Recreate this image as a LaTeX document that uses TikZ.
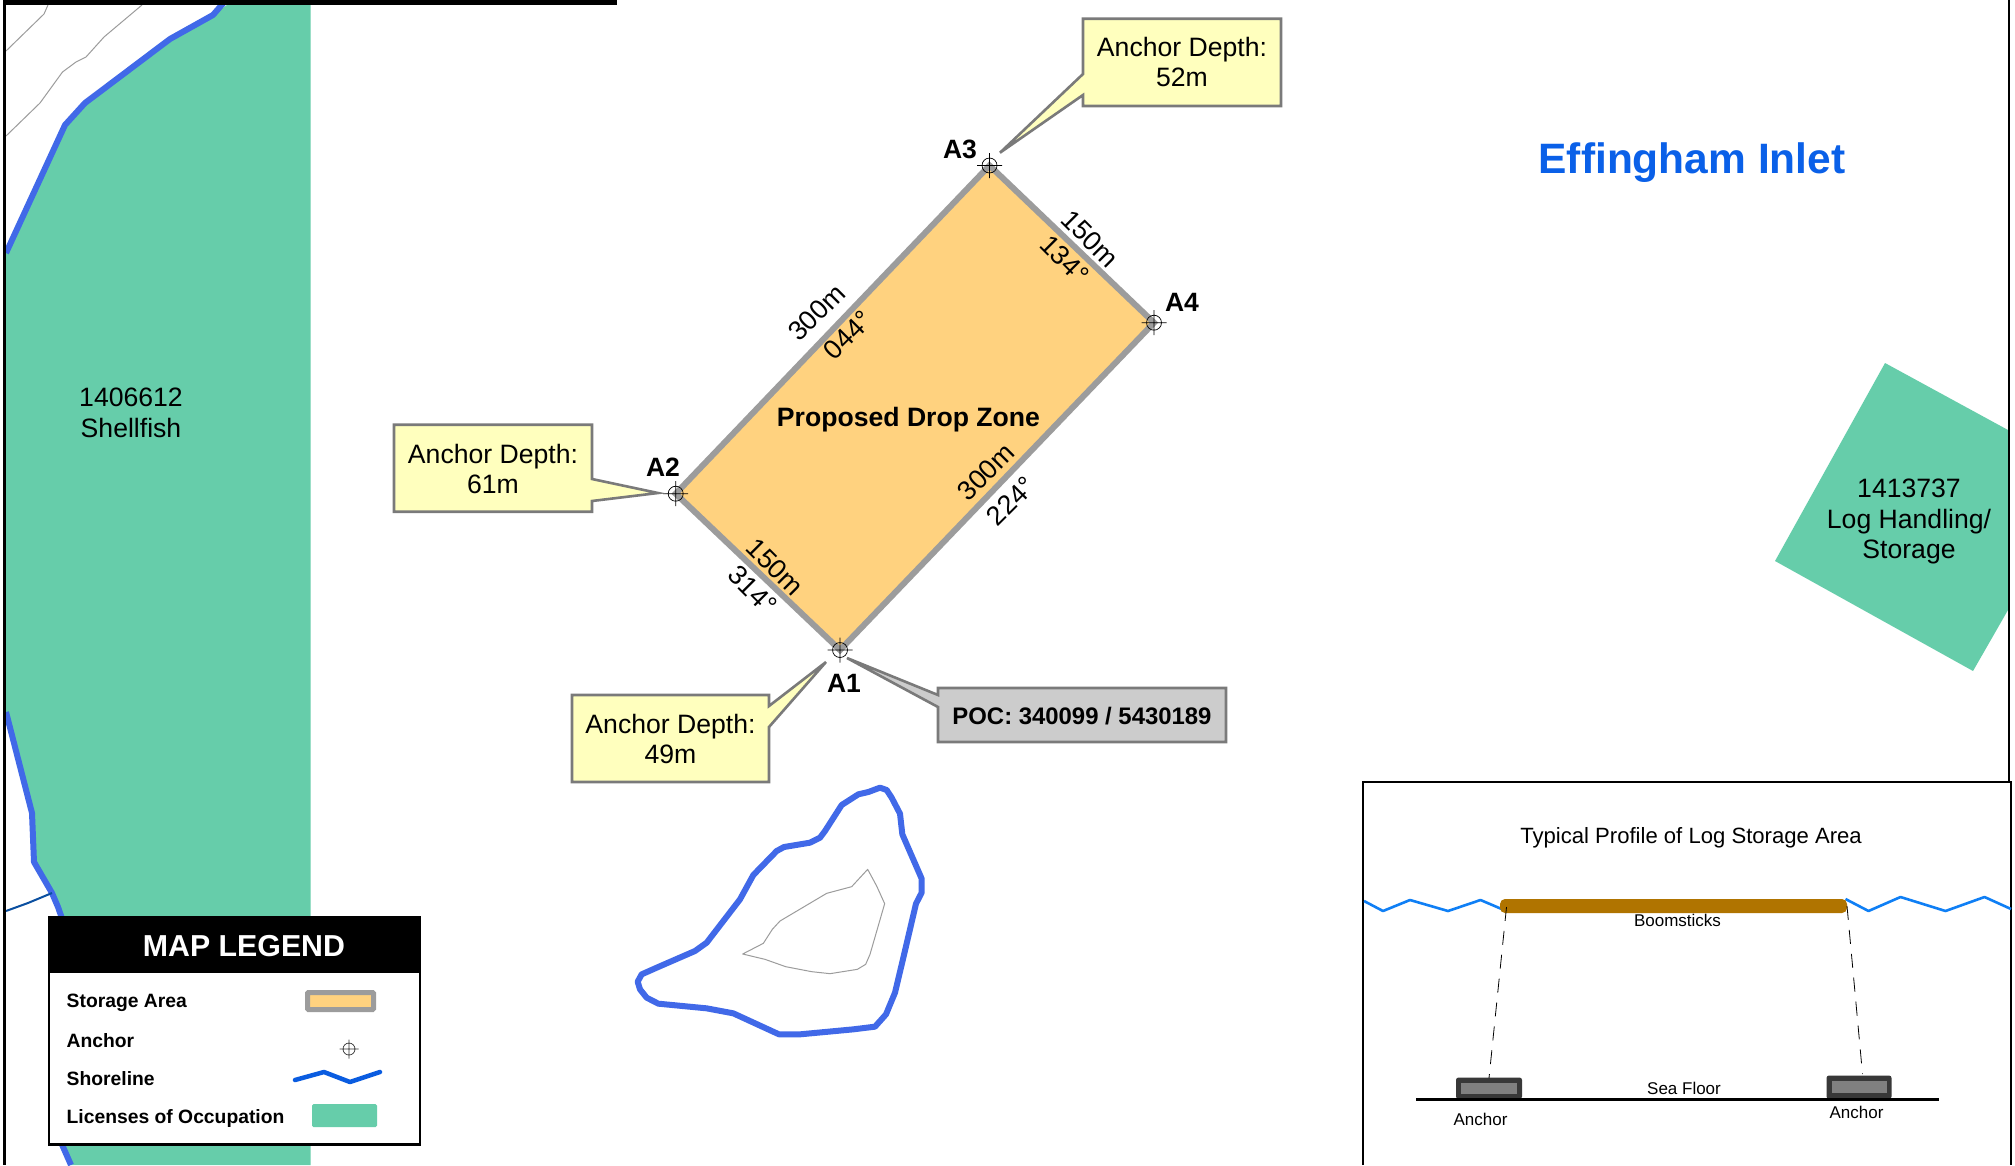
\documentclass[tikz,border=0pt]{standalone}
\usepackage{fontspec}
\setmainfont{Liberation Sans}
\definecolor{lic}{HTML}{66CDAA}
\definecolor{shore}{HTML}{4169E8}
\definecolor{store}{HTML}{FFD27F}
\definecolor{edgeg}{HTML}{9C9C9C}
\definecolor{callfill}{HTML}{FFFFBE}
\definecolor{callline}{HTML}{7A7A7A}
\definecolor{pocfill}{HTML}{CCCCCC}
\definecolor{wave}{HTML}{0F7FF5}
\definecolor{legwave}{HTML}{0A5CE0}
\definecolor{boom}{HTML}{B07400}
\definecolor{title}{HTML}{0A60E8}
\definecolor{creek}{HTML}{0A4FA0}
\newcommand{\fs}[1]{\fontsize{#1}{30.5}\selectfont}
\tikzset{
  x=1pt,y=-1pt,
  coast/.style={draw=shore,line width=6pt,line join=round},
  contour/.style={draw=edgeg,line width=1pt,line join=round},
  callout/.style={draw=callline,fill=callfill,line width=2.6pt,line join=miter},
  calltext/.style={align=center,font=\fs{26.6},inner sep=0pt},
  ptlabel/.style={font=\bfseries\fs{26.5},inner sep=0pt},
  dim/.style={font=\fs{27},inner sep=0pt},
  leglabel/.style={font=\bfseries\fs{19.3},inner sep=0pt,anchor=west},
  small/.style={font=\fs{17},inner sep=0pt},
  anchormark/.pic={
    \draw[black,line width=0.7pt] (0,0) circle[radius=7.5] (-12.5,0)--(12.5,0) (0,-12.5)--(0,12.5);
  },
  anchorsmall/.pic={
    \draw[black!80,line width=0.7pt] (0,0) circle[radius=6] (-9.5,0)--(9.5,0) (0,-9.5)--(0,9.5);
  },
}
\begin{document}
\begin{tikzpicture}
\useasboundingbox (0,0) rectangle (2015,1165);
\fill[white] (0,0) rectangle (2015,1165);
% left licence
\fill[lic] (235,0)--(227,5)--(213,15)--(170,39)--(85,103)--(65,125)--(6,253)--(6,712)--(32,813)--(34,862)--(52,893)--(58,907)--(62,917)--(62,1145)--(71,1165)--(310.5,1165)--(310.5,0)--cycle;
% right licence
\fill[lic] (1885,363)--(2008,430)--(2008,610)--(1973,671)--(1775,561)--cycle;
% contours
\draw[contour] (6,51)--(44,14)--(48,5);
\draw[contour] (6,136)--(40,103)--(62.5,72)--(76,62)--(86,57)--(104,37)--(142,5);
% shoreline
\draw[coast] (226,0)--(213,15)--(170,39)--(85,103)--(65,125)--(6,253);
\draw[coast] (6,712)--(32,813)--(34,862)--(52,893)--(58,907)--(66,930);
\draw[coast] (60,1140)--(71,1165);
\draw[draw=creek,line width=2pt] (6,911)--(28,903)--(52,893);
% frame
\draw[black,line width=2.5pt] (4.5,0)--(4.5,1165);
\draw[black,line width=2.5pt] (2009,0)--(2009,782);
\fill[black] (6,0) rectangle (617,5);
% zone
\draw[draw=edgeg,fill=store,line width=6pt,line join=miter] (989.5,165.5)--(1154,322.7)--(840,650)--(675.7,493.7)--cycle;
\pic at (989.5,165.5) {anchormark};
\pic at (1154,322.7) {anchormark};
\pic at (840,650) {anchormark};
\pic at (675.7,493.7) {anchormark};
\node[ptlabel] (a3) at (960,149) {A3};
\node[ptlabel] (a4) at (1182,302) {A4};
\node[ptlabel] (a2) at (663,467) {A2};
\node[ptlabel] (a1) at (844,683) {A1};
\node[font=\bfseries\fs{26.6},inner sep=0pt] (zone) at (908.5,420) {Proposed Drop Zone};
\node[dim,rotate=45] (d1) at (816.5,312.5) {300m};
\node[dim,rotate=45] (d2) at (848,335) {044°};
\node[dim,rotate=-45] (d3) at (1090,238.5) {150m};
\node[dim,rotate=-45] (d4) at (1064.5,259.5) {134°};
\node[dim,rotate=45] (d5) at (986,472) {300m};
\node[dim,rotate=45] (d6) at (1011,501) {224°};
\node[dim,rotate=-45] (d7) at (775,567) {150m};
\node[dim,rotate=-45] (d8) at (752.5,590) {314°};
% callouts
\draw[callout] (394,424.7)--(592,424.7)--(592,479)--(658,493)--(592,501)--(592,511.7)--(394,511.7)--cycle;
\node[calltext] (c2) at (493,469) {Anchor Depth:\\61m};
\draw[callout] (572,695)--(769,695)--(769,706)--(826,662)--(769,727)--(769,782)--(572,782)--cycle;
\node[calltext] (c1) at (670.5,739) {Anchor Depth:\\49m};
\draw[callout] (1083,18.7)--(1281,18.7)--(1281,106)--(1083,106)--(1083,95)--(1000,152.7)--(1083,74)--cycle;
\node[calltext] (c3) at (1182,62) {Anchor Depth:\\52m};
\draw[callout,fill=pocfill] (938,688)--(1226,688)--(1226,742)--(938,742)--(938,707)--(847,658)--(938,695)--cycle;
\node[font=\bfseries\fs{23.9},inner sep=0pt] (poc) at (1082,716) {POC: 340099 / 5430189};
% labels
\node[font=\bfseries\fs{42.5},text=title,inner sep=0pt] (inlet) at (1692,163) {Effingham Inlet};
\node[align=center,font=\fs{26.6},inner sep=0pt] (l1) at (131,413) {1406612\\Shellfish};
\node[align=center,font=\fs{26.6},inner sep=0pt] (l2) at (1909,521.5) {1413737\\Log Handling/\\Storage};
% island
\begin{scope}[shift={(620,771)},scale=1/3]
\draw[coast] (780,50)--(800,57)--(815,80)--(840,128)--(847,190)--(905,323)--(905,365)--(888,398)--(850,560)--(825,665)--(798,730)--(765,767)--(700,775)--(540,790)--(477,790)--(340,727)--(260,712)--(115,698)--(80,680)--(60,655)--(53,632)--(65,610)--(110,590)--(225,540)--(260,515)--(360,385)--(400,312)--(470,240)--(492,228)--(570,215)--(600,200)--(615,180)--(665,102)--(715,70)--(745,63)--cycle;
\draw[contour] (743,295)--(770,345)--(794,398)--(750,550)--(737,580)--(712,595)--(630,608)--(575,602)--(497,587)--(435,565)--(368,549)--(430,517)--(457,475)--(480,450)--(620,367)--(695,347)--cycle;
\end{scope}
% legend
\draw[black,fill=white,line width=2.5pt] (49,917) rectangle (420,1144.5);
\fill[black] (48,916) rectangle (421,973);
\node[font=\bfseries\fs{30.3},text=white,inner sep=0pt] (lt) at (244,946) {MAP LEGEND};
\node[leglabel] (ls) at (66.5,1002.5) {Storage Area};
\node[leglabel] (la) at (66.5,1040.5) {Anchor};
\node[leglabel] (lh) at (66.5,1078.5) {Shoreline};
\node[leglabel] (lo) at (66.5,1118) {Licenses of Occupation};
\draw[draw=edgeg,fill=store,line width=5pt,rounded corners=1pt] (307.5,992.5) rectangle (373.5,1009.5);
\pic at (349,1049) {anchorsmall};
\draw[legwave,line width=4.5pt,line cap=round,line join=round] (295,1080)--(324,1072)--(350,1082)--(380,1072);
\fill[lic,rounded corners=1.5pt] (312,1104) rectangle (377,1127);
% inset
\fill[white] (1363,782) rectangle (2011,1165);
\draw[black,line width=2.5pt] (1363,1165)--(1363,782)--(2011,782)--(2011,1165);
\node[font=\fs{22.1},inner sep=0pt] (it) at (1691,838) {Typical Profile of Log Storage Area};
\draw[wave,line width=2.6pt,line join=round] (1364,901)--(1383,911)--(1410,900)--(1448,911)--(1480.5,900)--(1504,910);
\draw[wave,line width=2.6pt,line join=round] (1845.5,899)--(1868.5,911)--(1900.5,897)--(1945.5,911)--(1984.5,897)--(2011,909);
\fill[boom,rounded corners=5pt] (1500,899) rectangle (1847,913);
\node[small] (bs) at (1677.5,920) {Boomsticks};
\fill[black!78,rounded corners=2.5pt] (1456,1077.5) rectangle (1522,1099);
\fill[black!78,rounded corners=2.5pt] (1826.5,1075.5) rectangle (1891.5,1099);
\fill[black!50] (1461,1083) rectangle (1517,1094);
\fill[black!50] (1831.5,1081) rectangle (1886.5,1092.5);
\draw[black,line width=0.8pt,dash pattern=on 14pt off 10pt] (1506.5,907)--(1489,1078);
\draw[black,line width=0.8pt,dash pattern=on 14pt off 10pt] (1847,906)--(1862.5,1074);
\draw[black,line width=3pt] (1416,1099)--(1938.5,1099);
\node[small] (sf) at (1684,1088.5) {Sea Floor};
\node[small] (an1) at (1480.5,1119) {Anchor};
\node[small] (an2) at (1856.5,1112) {Anchor};
\end{tikzpicture}
\end{document}
